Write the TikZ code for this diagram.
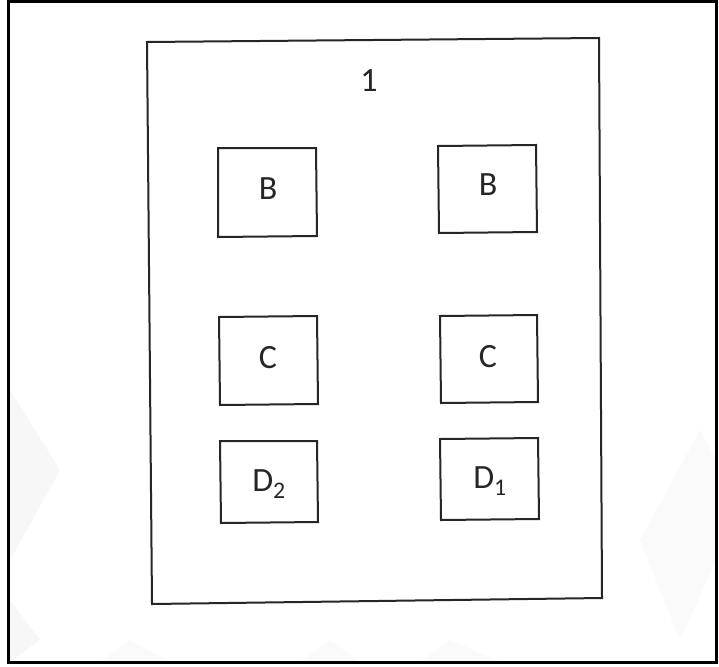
\documentclass[tikz,border=0pt]{standalone}
\usepackage{fontspec}
\setmainfont{Carlito}
\begin{document}
\begin{tikzpicture}[x=1pt,y=-1pt,
  frame/.style={draw=black,line width=3pt},
  box/.style={draw=black!85,line width=2pt,line join=miter},
  lbl/.style={font=\fontsize{34}{36}\selectfont,text=black!85,inner sep=0pt}]
\useasboundingbox (0,0) rectangle (719,666);
\fill[white] (0,0) rectangle (719,666);
% faint watermark
\fill[black!3] (10,390) -- (60,470) -- (10,560) -- cycle;
\fill[black!3] (10,600) -- (40,640) -- (10,662) -- cycle;
\fill[black!2] (100,662) -- (130,640) -- (170,662) -- cycle;
\fill[black!2] (300,662) -- (330,640) -- (360,662) -- cycle;
\fill[black!2] (420,662) -- (450,640) -- (500,662) -- cycle;
\fill[black!2] (640,540) -- (700,430) -- (716,460) -- (716,560) -- (680,640) -- cycle;
% outer frame
\draw[frame] (8.5,1.5) rectangle (716,662);
% big rectangle
\draw[box] (147,42) -- (599,38) -- (602,598) -- (152,604) -- cycle;
\node[lbl] (t1) at (369,81) {1};
% boxes
\draw[box] (218,148) -- (316,148) -- (317,236) -- (218,237) -- cycle;
\node[lbl] (bl) at (268,189) {B};
\draw[box] (438,146) -- (536,145) -- (537,232) -- (439,233) -- cycle;
\node[lbl] (br) at (488,185) {B};
\draw[box] (219,317) -- (317,316) -- (318,404) -- (220,405) -- cycle;
\node[lbl] (cl) at (268,358) {C};
\draw[box] (440,316) -- (537,315) -- (538,402) -- (441,403) -- cycle;
\node[lbl] (cr) at (488,357) {C};
\draw[box] (220,441) -- (317,441) -- (318,522) -- (221,523) -- cycle;
\node[lbl] (d2) at (269,484) {D\textsubscript{2}};
\draw[box] (440,439) -- (538,438) -- (539,519) -- (441,520) -- cycle;
\node[lbl] (d1) at (490,481) {D\textsubscript{1}};
\end{tikzpicture}
\end{document}
